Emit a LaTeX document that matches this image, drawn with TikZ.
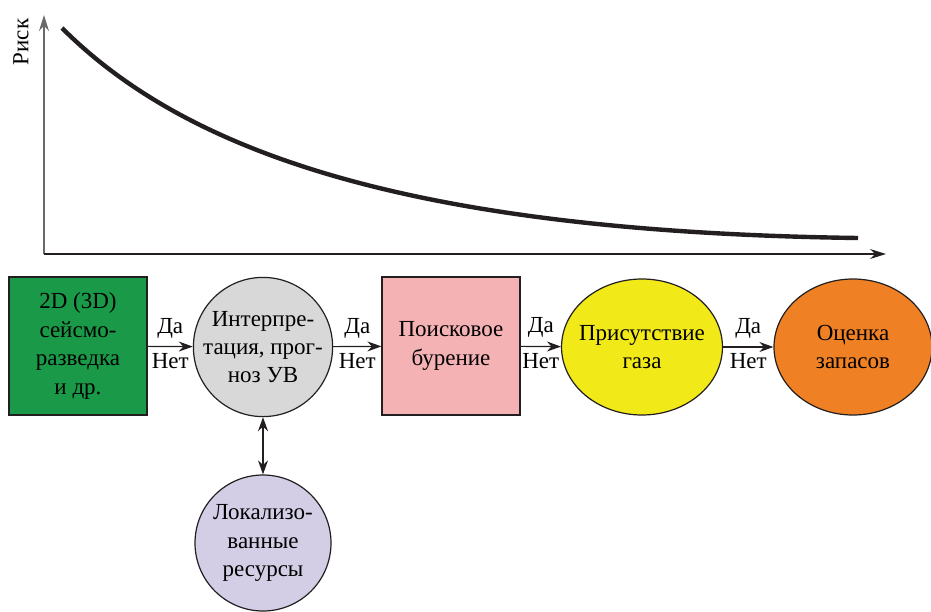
\documentclass[tikz,border=0pt]{standalone}
\usepackage{fontspec}
\setmainfont{Liberation Serif}
\newfontfamily\tmsfont{Liberation Serif}
\definecolor{Clrseism}{RGB}{26,154,72}
\definecolor{Clrinterp}{RGB}{216,216,216}
\definecolor{Clrdrill}{RGB}{245,178,180}
\definecolor{Clrgas}{RGB}{241,233,24}
\definecolor{Clrres}{RGB}{239,129,36}
\definecolor{Clrloc}{RGB}{211,206,229}
\definecolor{Clrline}{RGB}{35,31,32}
\definecolor{Clraxis}{RGB}{105,105,105}
\usetikzlibrary{calc, positioning, arrows.meta, shapes.geometric}

\begin{document}
\begin{tikzpicture}[
  x=0.5pt, y=-0.5pt,
  font=\tmsfont\fontsize{11.5}{14.2}\selectfont,
  sqb/.style={draw=Clrline, minimum width=69pt, minimum height=69pt,
              align=center, inner sep=1pt, line width=0.6pt},
  crc/.style={draw=Clrline, circle, minimum size=68pt, align=center,
              inner sep=0pt, line width=0.6pt},
  ell/.style={draw=Clrline, ellipse, minimum width=79pt,
              minimum height=68pt, align=center, inner xsep=-3pt,
              inner ysep=0pt, line width=0.6pt},
  arr/.style={-{Stealth[length=7pt,width=5pt]}, draw=Clrline, line width=0.6pt},
  darr/.style={{Stealth[length=7pt,width=5pt]}-{Stealth[length=7pt,width=5pt]},
               draw=Clrline, line width=0.6pt},
  ax/.style={-{Stealth[length=8pt,width=5pt]}, line width=0.7pt},
  yn/.style={inner sep=1.5pt}
]
\useasboundingbox (0,0) rectangle (931,611);

\coordinate (orig) at (44,254);
\coordinate (ytop) at (44,15);
\coordinate (xend) at (886,254);
\draw[ax, draw=Clraxis, line width=0.8pt] (orig) -- (ytop);
\draw[ax, draw=Clrline] (orig) -- (xend);
\node[rotate=90] (risk) at (21,42) {Риск};
\draw[line width=2.2pt, Clrline]
  (62,28) .. controls (190,156) and (420,232) .. (858,238);

\node[sqb, fill=Clrseism] (seism) at (78,346) {2D (3D)\\сейсмо-\\разведка\\и др.};
\node[crc, fill=Clrinterp] (interp) at (263,347) {Интерпре-\\тация, прог-\\ноз УВ};
\node[sqb, fill=Clrdrill] (drill) at (451,346) {Поисковое\\бурение};
\node[ell, fill=Clrgas] (gas) at (642,347) {Присутствие\\газа};
\node[ell, fill=Clrres] (resv) at (853,347) {Оценка\\запасов};
\node[crc, fill=Clrloc] (local) at (263,543) {Локализо-\\ванные\\ресурсы};

\draw[arr] (seism) -- node[yn, above=2.5pt] {Да} node[yn, below=1.5pt] {Нет} (interp);
\draw[arr] (interp) -- node[yn, above=2.5pt] {Да} node[yn, below=1.5pt] {Нет} (drill);
\draw[arr] (drill) -- node[yn, above=2.5pt] {Да} node[yn, below=1.5pt] {Нет} (gas);
\draw[arr] (gas) -- node[yn, above=2.5pt] {Да} node[yn, below=1.5pt] {Нет} (resv);
\draw[darr] (interp) -- (local);
\end{tikzpicture}
\end{document}
